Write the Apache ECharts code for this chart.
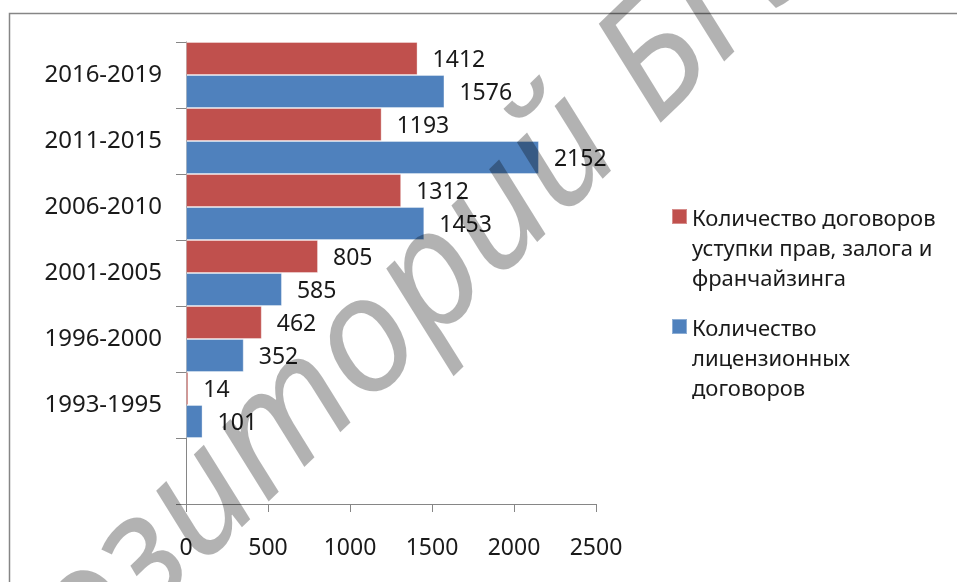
<!DOCTYPE html>
<html>
<head>
<meta charset="utf-8">
<script src="https://cdn.jsdelivr.net/npm/echarts@6/dist/echarts.min.js"></script>
<style>
html,body{margin:0;padding:0;background:#fff;}
#main{width:957px;height:582px;}
</style>
</head>
<body>
<div id="main"></div>
<script>
// Data
const categories = ['', '1993-1995', '1996-2000', '2001-2005', '2006-2010', '2011-2015', '2016-2019'];
const seriesNames = ['Количество договоров уступки прав, залога и франчайзинга', 'Количество лицензионных договоров'];
const legendLines = {
  'Количество договоров уступки прав, залога и франчайзинга': 'Количество договоров\nуступки прав, залога и\nфранчайзинга',
  'Количество лицензионных договоров': 'Количество\nлицензионных\nдоговоров'
};
const assignmentValues = ['-', 14, 462, 805, 1312, 1193, 1412];
const licenseValues = ['-', 101, 352, 585, 1453, 2152, 1576];
const xTicks = [0, 500, 1000, 1500, 2000, 2500];
const watermarkText = 'Репозиторий БГЭУ';

const chart = echarts.init(document.getElementById('main'), null, {renderer: 'canvas'});
const FONT = '"Noto Sans", "Open Sans", sans-serif';
const legendIcon = 'path://M0,8h15v15h-15z M0,89.9h0.1v0.1h-0.1z';

const option = {
  animation: false,
  backgroundColor: '#ffffff',
  grid: {left: 186, top: 42, width: 410, height: 462, containLabel: false},
  xAxis: {
    type: 'value',
    min: xTicks[0],
    max: xTicks[xTicks.length - 1],
    interval: xTicks[1] - xTicks[0],
    axisLine: {show: true, lineStyle: {color: '#868686', width: 1}},
    axisTick: {show: true, inside: false, length: 8, lineStyle: {color: '#868686'}},
    splitLine: {show: false},
    axisLabel: {fontFamily: FONT, fontSize: 23, color: '#1a1a1a', margin: 33, formatter: v => String(v)}
  },
  yAxis: {
    type: 'category',
    data: categories,
    axisLine: {show: true, lineStyle: {color: '#868686', width: 1}},
    axisTick: {show: true, inside: false, length: 10, alignWithLabel: false, lineStyle: {color: '#868686'}},
    axisLabel: {fontFamily: FONT, fontSize: 24, color: '#1a1a1a', margin: 24}
  },
  legend: {
    orient: 'vertical',
    left: 666,
    top: 200,
    itemWidth: 15,
    itemHeight: 90,
    itemGap: 20,
    icon: legendIcon,
    data: seriesNames,
    formatter: name => legendLines[name],
    textStyle: {fontFamily: FONT, fontSize: 22, lineHeight: 30, color: '#1a1a1a'},
    selectedMode: false
  },
  series: [
    {
      name: seriesNames[0],
      type: 'bar',
      data: assignmentValues,
      barGap: '0%',
      barCategoryGap: '0%',
      itemStyle: {color: '#C0504D', borderColor: 'rgba(255,255,255,0.35)', borderWidth: 1},
      label: {show: true, position: 'right', distance: 15, offset: [0, 2], fontFamily: FONT, fontSize: 23, color: '#1a1a1a'}
    },
    {
      name: seriesNames[1],
      type: 'bar',
      data: licenseValues,
      barGap: '0%',
      barCategoryGap: '0%',
      itemStyle: {color: '#4F81BD', borderColor: 'rgba(255,255,255,0.35)', borderWidth: 1},
      label: {show: true, position: 'right', distance: 15, offset: [0, 2], fontFamily: FONT, fontSize: 23, color: '#1a1a1a'}
    }
  ],
  graphic: [
    {
      type: 'rect',
      z: 0,
      silent: true,
      shape: {x: 9.5, y: 13.5, width: 1000, height: 700},
      style: {fill: 'none', stroke: '#868686', lineWidth: 1.5}
    },
    {
      type: 'text',
      z: 100,
      silent: true,
      x: -129,
      y: 822,
      rotation: 44 * Math.PI / 180,
      style: {
        x: 0, y: 0,
        text: watermarkText,
        font: 'italic 160px "Noto Sans", "Open Sans", sans-serif',
        fill: 'rgba(0,0,0,0.3)',
        align: 'left',
        verticalAlign: 'middle'
      }
    }
  ]
};
chart.setOption(option);
</script>
</body>
</html>
